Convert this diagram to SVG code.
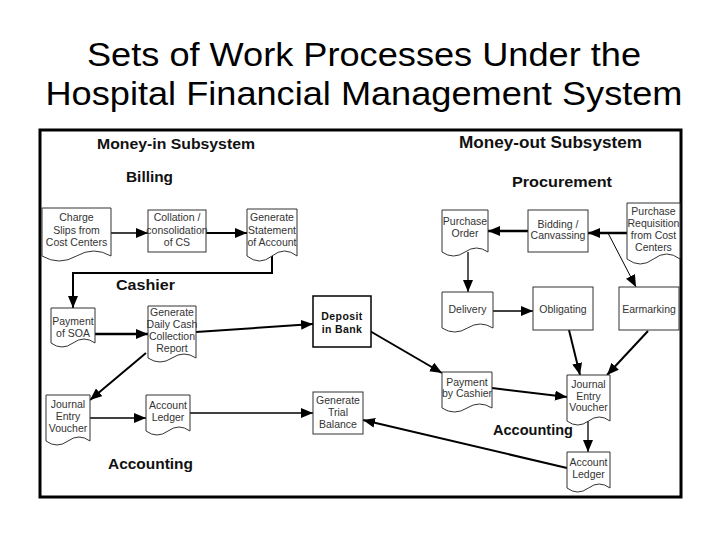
<svg xmlns="http://www.w3.org/2000/svg" width="728" height="546" viewBox="0 0 728 546">
<style>
.title{font-family:"Liberation Sans",Arial,sans-serif;font-size:34px;fill:#000;text-anchor:middle}
.hdr{font-family:"Liberation Sans",Arial,sans-serif;font-weight:bold;fill:#111}
.t{font-family:"Liberation Sans",Arial,sans-serif;font-size:10.5px;fill:#333;text-anchor:middle}
.tb{font-family:"Liberation Sans",Arial,sans-serif;font-size:10.5px;font-weight:bold;fill:#111;text-anchor:middle;letter-spacing:0.4px}
.shape{fill:#fff;stroke:#333;stroke-width:1}
.c{fill:none;stroke:#000;stroke-width:2;marker-end:url(#ah)}
.thin{stroke-width:1.3}
.thick{stroke-width:2.6}
</style>
<defs>
<marker id="ah" markerUnits="userSpaceOnUse" markerWidth="12" markerHeight="10" refX="12" refY="5" orient="auto">
<path d="M0,0 L12,5 L0,10 Z" fill="#000"/>
</marker>
</defs>
<rect width="728" height="546" fill="#fff"/>
<text class="title" x="364" y="66" textLength="554" lengthAdjust="spacingAndGlyphs">Sets of Work Processes Under the</text>
<text class="title" x="364" y="105" textLength="637" lengthAdjust="spacingAndGlyphs">Hospital Financial Management System</text>
<rect x="40" y="130" width="641" height="367" fill="none" stroke="#000" stroke-width="3"/>
<g id="labels">
<text class="hdr" x="97" y="149" font-size="15" textLength="158" lengthAdjust="spacingAndGlyphs">Money-in Subsystem</text>
<text class="hdr" x="126" y="182" font-size="15" textLength="47" lengthAdjust="spacingAndGlyphs">Billing</text>
<text class="hdr" x="116" y="290" font-size="15" textLength="59" lengthAdjust="spacingAndGlyphs">Cashier</text>
<text class="hdr" x="108" y="469" font-size="15" textLength="85" lengthAdjust="spacingAndGlyphs">Accounting</text>
<text class="hdr" x="459" y="148" font-size="16" textLength="183" lengthAdjust="spacingAndGlyphs">Money-out Subsystem</text>
<text class="hdr" x="512" y="187" font-size="15.5" textLength="100" lengthAdjust="spacingAndGlyphs">Procurement</text>
<text class="hdr" x="493" y="435" font-size="14.5" textLength="80" lengthAdjust="spacingAndGlyphs">Accounting</text>
</g>
<g id="connectors">
<path class="c thin" d="M111,233 H148"/>
<path class="c" d="M206,233 H247"/>
<path class="c" d="M272,256 V273 H73 V308"/>
<path class="c thick" d="M95,334 H148"/>
<path class="c" d="M196,332 L313,324"/>
<path class="c" d="M146,353 L90,400"/>
<path class="c thin" d="M90,418 H146"/>
<path class="c thin" d="M190,413 H313"/>
<path class="c" d="M363,327 L442,373"/>
<path class="c" d="M567,468 L363,420"/>
<path class="c thick" d="M627,233 H588"/>
<path class="c thick" d="M528,231 H488"/>
<path class="c" style="stroke-width:1" d="M608,233 L636,287"/>
<path class="c thin" d="M468,252 V292"/>
<path class="c thin" d="M493,311 H533"/>
<path class="c" d="M569,330 L580,375"/>
<path class="c" d="M648,331 L607,375"/>
<path class="c" d="M492,388 L567,397"/>
<path class="c thin" d="M588,421 V452"/>
</g>
<g id="charge-slips">
<path class="shape" d="M42 208 H111 V256 Q93.75 246 76.5 256 T42 256 Z"/>
<text class="t" x="76.5" y="221">Charge</text>
<text class="t" x="76.5" y="234">Slips from</text>
<text class="t" x="76.5" y="246">Cost Centers</text>
</g>
<g id="collation">
<rect class="shape" x="148" y="210" width="58" height="42"/>
<text class="t" x="177" y="221">Collation /</text>
<text class="t" x="177" y="234">consolidation</text>
<text class="t" x="177" y="246">of CS</text>
</g>
<g id="generate-statement">
<path class="shape" d="M247 209 H297 V256 Q284.5 246 272 256 T247 256 Z"/>
<text class="t" x="272" y="221">Generate</text>
<text class="t" x="272" y="234">Statement</text>
<text class="t" x="272" y="246">of Account</text>
</g>
<g id="payment-soa">
<path class="shape" d="M51 308 H95 V343 Q84 335 73 343 T51 343 Z"/>
<text class="t" x="73" y="325">Payment</text>
<text class="t" x="73" y="337">of SOA</text>
</g>
<g id="daily-cash">
<path class="shape" d="M148 306 H196 V358 Q184 350 172 358 T148 358 Z"/>
<text class="t" x="172" y="316">Generate</text>
<text class="t" x="172" y="328">Daily Cash</text>
<text class="t" x="172" y="340">Collection</text>
<text class="t" x="172" y="352">Report</text>
</g>
<g id="deposit">
<rect class="shape" style="stroke:#000;stroke-width:1.5" x="313" y="296" width="58" height="51"/>
<text class="tb" x="342" y="320">Deposit</text>
<text class="tb" x="342" y="333">in Bank</text>
</g>
<g id="jev-left">
<path class="shape" d="M46 395 H90 V441 Q79 433 68 441 T46 441 Z"/>
<text class="t" x="68" y="408">Journal</text>
<text class="t" x="68" y="420">Entry</text>
<text class="t" x="68" y="432">Voucher</text>
</g>
<g id="ledger-left">
<path class="shape" d="M146 395 H190 V431 Q179 423 168 431 T146 431 Z"/>
<text class="t" x="168" y="409">Account</text>
<text class="t" x="168" y="421">Ledger</text>
</g>
<g id="trial-balance">
<rect class="shape" x="313" y="392" width="50" height="42"/>
<text class="t" x="338" y="404">Generate</text>
<text class="t" x="338" y="416">Trial</text>
<text class="t" x="338" y="428">Balance</text>
</g>
<g id="purchase-order">
<path class="shape" d="M442 210 H488 V252 Q476.5 244 465 252 T442 252 Z"/>
<text class="t" x="465" y="225">Purchase</text>
<text class="t" x="465" y="237">Order</text>
</g>
<g id="bidding">
<rect class="shape" x="528" y="210" width="60" height="42"/>
<text class="t" x="558" y="228">Bidding /</text>
<text class="t" x="558" y="239">Canvassing</text>
</g>
<g id="requisition">
<path class="shape" d="M627 203 H680 V259 Q666.75 249 653.5 259 T627 259 Z"/>
<text class="t" x="653.5" y="215">Purchase</text>
<text class="t" x="653.5" y="227">Requisition</text>
<text class="t" x="653.5" y="239">from Cost</text>
<text class="t" x="653.5" y="251">Centers</text>
</g>
<g id="delivery">
<path class="shape" d="M442 292 H493 V328 Q480.25 320 467.5 328 T442 328 Z"/>
<text class="t" x="467.5" y="313">Delivery</text>
</g>
<g id="obligating">
<rect class="shape" x="533" y="287" width="60" height="43"/>
<text class="t" x="563" y="313">Obligating</text>
</g>
<g id="earmarking">
<rect class="shape" x="619" y="287" width="60" height="43"/>
<text class="t" x="649" y="313">Earmarking</text>
</g>
<g id="payment-cashier">
<path class="shape" d="M442 372 H492 V408 Q479.5 400 467 408 T442 408 Z"/>
<text class="t" x="467" y="386">Payment</text>
<text class="t" x="467" y="397">by Cashier</text>
</g>
<g id="jev-right">
<path class="shape" d="M567 375 H610 V421 Q599.25 413 588.5 421 T567 421 Z"/>
<text class="t" x="588.5" y="388">Journal</text>
<text class="t" x="588.5" y="400">Entry</text>
<text class="t" x="588.5" y="411">Voucher</text>
</g>
<g id="ledger-right">
<path class="shape" d="M567 452 H610 V488 Q599.25 480 588.5 488 T567 488 Z"/>
<text class="t" x="588.5" y="466">Account</text>
<text class="t" x="588.5" y="478">Ledger</text>
</g>
</svg>
